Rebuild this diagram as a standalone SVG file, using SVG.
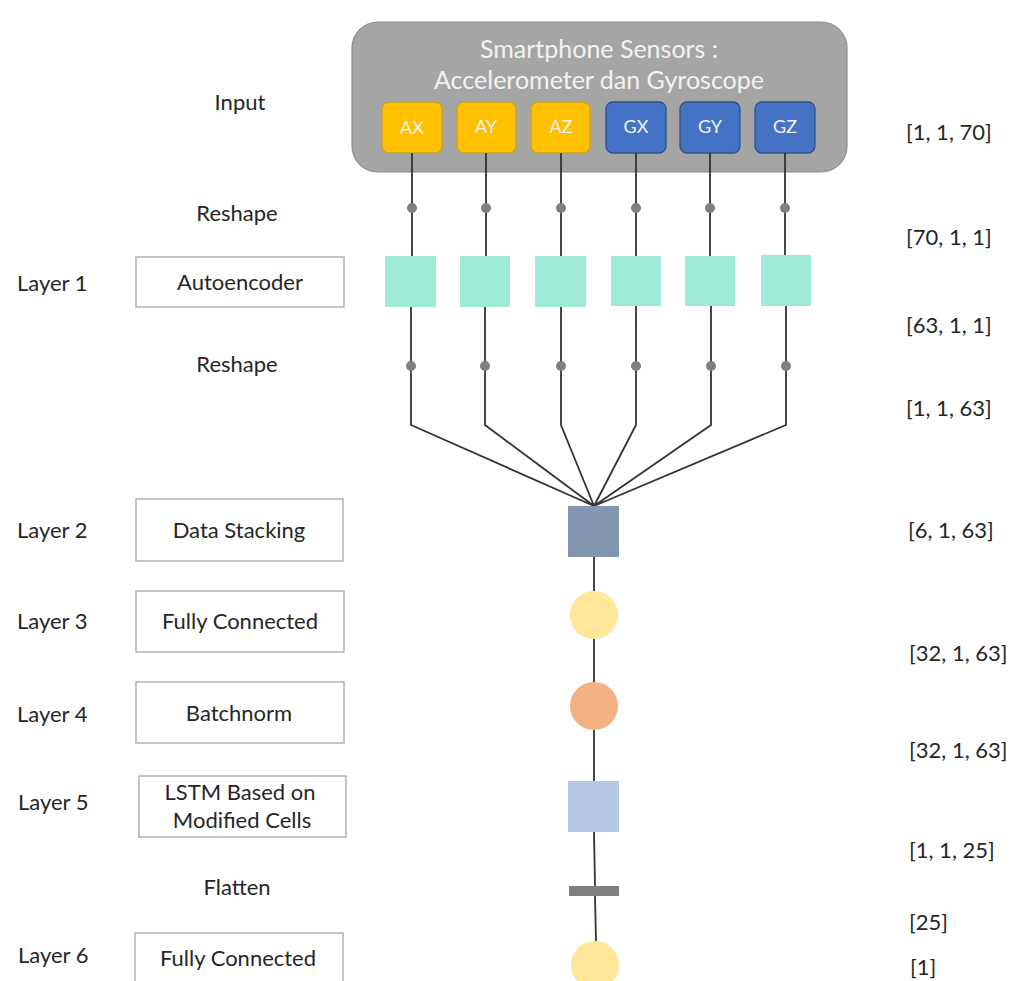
<svg xmlns="http://www.w3.org/2000/svg" width="1010" height="981" viewBox="0 0 1010 981">
<style>
text{font-family:Lato,"Open Sans","Liberation Sans",sans-serif;fill:#262626;font-size:22px}
.c{text-anchor:middle}
.lbox{fill:#fff;stroke:#a6a6a6;stroke-width:1.3}
.sens{stroke-width:1.3}
.ya{fill:#ffc000;stroke:#c9a227}
.gb{fill:#4472c4;stroke:#2f528f}
.st{fill:#f2f2f2;font-size:18px}
.teal{fill:#a1ead7}
.dot{fill:#7f7f7f}
.ln{fill:none;stroke:#333;stroke-width:1.8}
</style>
<rect width="1010" height="981" fill="#fff"/>

<g id="sensors">
<rect x="352" y="22" width="495" height="150" rx="26" fill="#a5a5a5" stroke="#8c8c8c" stroke-width="1.2"/>
<text class="c" x="599" y="58" style="fill:#f2f2f2;font-size:25px">Smartphone Sensors :</text>
<text class="c" x="599" y="89" style="fill:#f2f2f2;font-size:25px">Accelerometer dan Gyroscope</text>
</g>
<g id="AX"><rect class="sens ya" x="382" y="102" width="60" height="51" rx="7"/><text class="c st" x="412" y="134">AX</text></g>
<g id="AY"><rect class="sens ya" x="457" y="102" width="59" height="51" rx="7"/><text class="c st" x="486" y="133">AY</text></g>
<g id="AZ"><rect class="sens ya" x="531" y="102" width="59" height="51" rx="7"/><text class="c st" x="561" y="133">AZ</text></g>
<g id="GX"><rect class="sens gb" x="606" y="102" width="60" height="51" rx="7"/><text class="c st" x="636" y="133">GX</text></g>
<g id="GY"><rect class="sens gb" x="680" y="102" width="60" height="51" rx="7"/><text class="c st" x="710" y="133">GY</text></g>
<g id="GZ"><rect class="sens gb" x="755" y="102" width="60" height="51" rx="7"/><text class="c st" x="785" y="133">GZ</text></g>

<g id="connectors">
<path class="ln" d="M412 153V256M486 153V256M561 153V256M636 153V256M710 153V256M785 153V255"/>
<path class="ln" d="M411 307V425L594 506M485 307V425L594 506M561 307V425L594 506M636 306V425L594 506M711 306V425L594 506M786 306V425L594 506"/>
<path class="ln" d="M594 557V591M594 639V682M594 730V781M594 832L595 886M595 896L596 941"/>
</g>

<g id="reshape-dots">
<circle class="dot" cx="412" cy="208" r="5"/><circle class="dot" cx="486" cy="208" r="5"/><circle class="dot" cx="561" cy="208" r="5"/>
<circle class="dot" cx="636" cy="208" r="5"/><circle class="dot" cx="710" cy="208" r="5"/><circle class="dot" cx="785" cy="208" r="5"/>
<circle class="dot" cx="411" cy="366" r="5"/><circle class="dot" cx="485" cy="366" r="5"/><circle class="dot" cx="561" cy="366" r="5"/>
<circle class="dot" cx="636" cy="366" r="5"/><circle class="dot" cx="711" cy="366" r="5"/><circle class="dot" cx="786" cy="366" r="5"/>
</g>

<g id="autoencoders">
<rect class="teal" x="385" y="256" width="51" height="51"/>
<rect class="teal" x="460" y="256" width="50" height="51"/>
<rect class="teal" x="535" y="256" width="51" height="51"/>
<rect class="teal" x="611" y="256" width="50" height="50"/>
<rect class="teal" x="685" y="256" width="50" height="50"/>
<rect class="teal" x="761" y="255" width="50" height="51"/>
</g>

<g id="stacking"><rect x="568" y="506" width="51" height="51" fill="#8497b0"/></g>
<g id="fc1"><circle cx="594" cy="615" r="24" fill="#ffe699"/></g>
<g id="bn"><circle cx="594" cy="706" r="24" fill="#f4b183"/></g>
<g id="lstm"><rect x="568" y="781" width="51" height="51" fill="#b4c7e7"/></g>
<g id="flatten"><rect x="569" y="886" width="50" height="10" fill="#808080"/></g>
<g id="fc2"><circle cx="595" cy="965" r="24" fill="#ffe699"/></g>

<g id="left-labels">
<text class="c" x="240" y="110">Input</text>
<text class="c" x="237" y="221">Reshape</text>
<text class="c" x="237" y="372">Reshape</text>
<text class="c" x="237" y="895">Flatten</text>
<text x="17" y="291">Layer 1</text>
<text x="17" y="538">Layer 2</text>
<text x="17" y="629">Layer 3</text>
<text x="17" y="722">Layer 4</text>
<text x="18" y="810">Layer 5</text>
<text x="18" y="963">Layer 6</text>
</g>

<g id="box-autoencoder"><rect class="lbox" x="136" y="257" width="208" height="50"/><text class="c" x="240" y="290">Autoencoder</text></g>
<g id="box-stacking"><rect class="lbox" x="136" y="499" width="207" height="62"/><text class="c" x="239" y="538">Data Stacking</text></g>
<g id="box-fc1"><rect class="lbox" x="136" y="591" width="208" height="61"/><text class="c" x="240" y="629">Fully Connected</text></g>
<g id="box-bn"><rect class="lbox" x="136" y="682" width="208" height="61"/><text class="c" x="239" y="721">Batchnorm</text></g>
<g id="box-lstm"><rect class="lbox" x="139" y="776" width="207" height="61"/><text class="c" x="240" y="800">LSTM Based on</text><text class="c" x="242" y="828">Modified Cells</text></g>
<g id="box-fc2"><rect class="lbox" x="135" y="933" width="208" height="60"/><text class="c" x="238" y="966">Fully Connected</text></g>

<g id="shapes">
<text x="906" y="140">[1, 1, 70]</text>
<text x="906" y="245">[70, 1, 1]</text>
<text x="906" y="333">[63, 1, 1]</text>
<text x="906" y="416">[1, 1, 63]</text>
<text x="908" y="538">[6, 1, 63]</text>
<text x="909" y="661">[32, 1, 63]</text>
<text x="909" y="758">[32, 1, 63]</text>
<text x="909" y="858">[1, 1, 25]</text>
<text x="909" y="930">[25]</text>
<text x="910" y="975">[1]</text>
</g>
</svg>
